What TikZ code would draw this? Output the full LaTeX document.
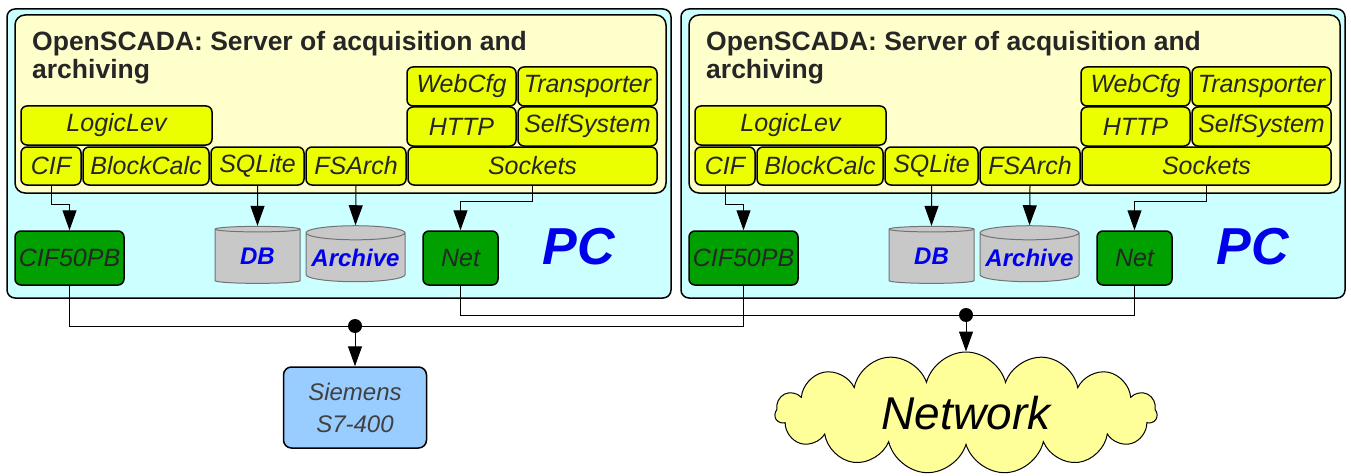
\documentclass[tikz,border=0pt]{standalone}
\usepackage{fontspec}
\setmainfont{Liberation Sans}
\usetikzlibrary{shapes.geometric,shapes.symbols,arrows.meta}

\definecolor{pcfill}{RGB}{204,255,255}
\definecolor{srvfill}{RGB}{255,255,204}
\definecolor{modfill}{RGB}{235,255,0}
\definecolor{hwfill}{RGB}{0,160,0}
\definecolor{dbfill}{RGB}{200,200,200}
\definecolor{plcfill}{RGB}{153,204,255}
\definecolor{netfill}{RGB}{255,255,153}
\definecolor{pcblue}{RGB}{0,0,235}

\begin{document}
\begin{tikzpicture}[x=1pt,y=-1pt]
	\tikzset{pcbox/.style = {shape=rectangle, draw, line width=1.5pt, rounded corners=8pt, fill=pcfill, inner sep=0pt},
		srvbox/.style = {shape=rectangle, draw, line width=1.5pt, rounded corners=10pt, fill=srvfill, inner sep=0pt},
		module/.style = {shape=rectangle, draw, line width=1.5pt, rounded corners=6pt, fill=modfill, inner sep=0pt, font=\fontsize{25}{28}\selectfont\itshape, text=black!85},
		hw/.style = {module, fill=hwfill},
		store/.style = {shape=cylinder, shape border rotate=90, aspect=0.16, draw=black!55, line width=1pt, cylinder uses custom fill, cylinder body fill=dbfill, cylinder end fill=dbfill, inner sep=0pt, font=\fontsize{24}{28}\selectfont\bfseries\itshape, text=pcblue},
		title/.style = {anchor=north west, align=left, inner sep=0pt, font=\fontsize{26.5}{28}\selectfont\bfseries, text=black!85},
		pclabel/.style = {inner sep=0pt, font=\fontsize{52}{56}\selectfont\bfseries\itshape, text=pcblue},
		arr/.style = {line width=1pt, -{Triangle[length=20pt,width=14pt]}},
		bus/.style = {line width=1pt},
		dot/.style = {shape=circle, fill=black, inner sep=0pt, minimum size=14pt}}

	\useasboundingbox (0,0) rectangle (1351,476);

	% two servers, the same layout
	\foreach \s/\p in {0/L,674/R} {
	\begin{scope}[xshift=\s pt]
		\node[pcbox, minimum width=664pt, minimum height=289pt] (PC_\p) at (339,153.5) {};
		\node[srvbox, minimum width=651pt, minimum height=178pt] (Srv_\p) at (340.5,104) {};
		\node[title] (Title_\p) at (32,31) {OpenSCADA: Server of acquisition and\\archiving};

		\node[module, minimum width=109pt, minimum height=39pt] (WebCfg_\p) at (461.5,86.5) {WebCfg};
		\node[module, minimum width=139pt, minimum height=39pt] (Transp_\p) at (587.5,86.5) {Transporter};
		\node[module, minimum width=109pt, minimum height=39pt] (HTTP_\p) at (461.5,126.5) {HTTP};
		\node[module, minimum width=139pt, minimum height=39pt] (SelfSys_\p) at (587.5,126.5) {SelfSystem};
		\node[module, minimum width=191pt, minimum height=39pt] (LogicLev_\p) at (116.5,125.5) {LogicLev};
		\node[module, minimum width=60pt, minimum height=38pt] (CIF_\p) at (51,166) {CIF};
		\node[module, minimum width=126pt, minimum height=38pt] (BlockCalc_\p) at (146,166) {BlockCalc};
		\node[module, minimum width=93pt, minimum height=38pt] (SQLite_\p) at (257.5,166) {SQLite};
		\node[module, minimum width=100pt, minimum height=38pt] (FSArch_\p) at (356,166) {FSArch};
		\node[module, minimum width=249pt, minimum height=38pt] (Sockets_\p) at (532.5,166) {Sockets};

		\node[hw, minimum width=109pt, minimum height=54pt] (CIF50PB_\p) at (69.5,258) {CIF50PB};
		\node[hw, minimum width=75pt, minimum height=54pt] (Net_\p) at (460.5,258) {Net};
		\node[store, minimum width=85pt, minimum height=57pt] (DB_\p) at (257.5,256.5) {DB};
		\node[store, minimum width=99pt, minimum height=56pt] (Archive_\p) at (355.5,257.5) {Archive};
		\node[pclabel] (PCname_\p) at (579,247) {PC};

		\draw[arr] (CIF_\p.south) -- ++(0,19) -| (CIF50PB_\p.north);
		\draw[arr] (SQLite_\p.south) -- (DB_\p.north);
		\draw[arr] (FSArch_\p.south) -- (Archive_\p.north);
		\draw[arr] (Sockets_\p.south) -- ++(0,16) -| (Net_\p.north);
	\end{scope}
	}

	\node[dot] (Bus_A) at (355,326) {};
	\node[dot] (Bus_B) at (966,315) {};
	\node[shape=rectangle, draw, line width=1.5pt, rounded corners=8pt, fill=plcfill, minimum width=143pt, minimum height=81pt, align=center, font=\fontsize{24}{32}\selectfont\itshape, text=black!75] (Siemens) at (355,407.5) {Siemens\\S7-400};
	\node[cloud, cloud puffs=15, cloud ignores aspect, draw, line width=1pt, fill=netfill, minimum width=382pt, minimum height=122pt, font=\fontsize{46}{50}\selectfont\itshape] (Network) at (966,413) {Network};

	\draw[bus] (CIF50PB_L.south) |- (Bus_A) -| (CIF50PB_R.south);
	\draw[bus] (Net_L.south) |- (Bus_B) -| (Net_R.south);
	\draw[arr] (Bus_A) -- (Siemens);
	\draw[arr] (Bus_B) -- (Network);

\end{tikzpicture}
\end{document}
